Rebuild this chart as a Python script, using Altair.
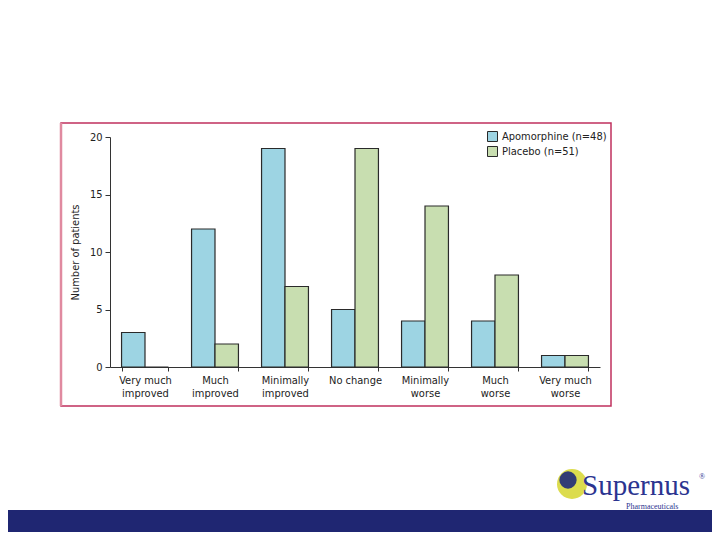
import altair as alt
import pandas as pd

categories = ["Very much\nimproved", "Much\nimproved", "Minimally\nimproved", "No change",
              "Minimally\nworse", "Much\nworse", "Very much\nworse"]
groups = ["Apomorphine (n=48)", "Placebo (n=51)"]
apomorphine = [3, 12, 19, 5, 4, 4, 1]
placebo = [0, 2, 7, 19, 14, 8, 1]
y_ticks = [0, 5, 10, 15, 20]
colors = ["#9DD4E3", "#C8DEB0"]

rows = []
for c, a, p in zip(categories, apomorphine, placebo):
    rows.append({"category": c, "group": groups[0], "value": a})
    rows.append({"category": c, "group": groups[1], "value": p})
df = pd.DataFrame(rows)

FONT = "Liberation Sans Narrow, DejaVu Sans Condensed, Noto Sans, sans-serif"
one = pd.DataFrame({"d": [0]})

border = alt.Chart(one).mark_rect(fill=None, stroke="#C0305E", strokeWidth=1.5).encode(
    x=alt.value(-49), x2=alt.value(501), y=alt.value(-14), y2=alt.value(269))
border_left = alt.Chart(one).mark_rule(stroke="#E08AA0", strokeWidth=2.5).encode(
    x=alt.value(-49), y=alt.value(-14), y2=alt.value(269))

bars = alt.Chart(df).mark_bar(stroke="#2a2a2a", strokeWidth=1.2).encode(
    x=alt.X("category:N", sort=categories,
            scale=alt.Scale(paddingInner=0.33, paddingOuter=0.165),
            axis=alt.Axis(title=None, labelAngle=0, tickBand="extent", tickSize=4,
                          labelExpr="split(datum.label, '\\n')", labelLineHeight=13,
                          labelFontSize=11, labelFont=FONT, labelColor="#222",
                          labelPadding=3, domainColor="#333", tickColor="#333",
                          labelBaseline="top")),
    xOffset=alt.XOffset("group:N", sort=groups),
    y=alt.Y("value:Q", scale=alt.Scale(domain=[0, 20]),
            axis=alt.Axis(title="Number of patients", values=y_ticks, grid=False, tickSize=5,
                          labelFontSize=11, labelFont=FONT, labelColor="#222",
                          titleFont=FONT, titleFontSize=11, titleFontWeight="normal",
                          titleColor="#222", titlePadding=9, domainColor="#333",
                          tickColor="#333", labelPadding=3)),
    color=alt.Color("group:N", sort=groups, scale=alt.Scale(domain=groups, range=colors),
                    legend=alt.Legend(title=None, orient="none", legendX=377, legendY=-6,
                                      symbolType="square", symbolSize=100,
                                      symbolStrokeColor="#2a2a2a", symbolStrokeWidth=1,
                                      labelFont=FONT, labelFontSize=11, labelColor="#222",
                                      rowPadding=0, labelLimit=200)),
)

footer = alt.Chart(one).mark_rect(fill="#1F2672").encode(
    x=alt.value(-102), x2=alt.value(602), y=alt.value(373), y2=alt.value(395))

logo_outer = alt.Chart(one).mark_circle(color="#DCDC4E", opacity=1, size=900).encode(
    x=alt.value(462), y=alt.value(347))
logo_inner = alt.Chart(one).mark_circle(color="#1F2A7A", opacity=0.9, size=300).encode(
    x=alt.value(458), y=alt.value(343))
logo_text = alt.Chart(one).mark_text(text="Supernus", font="Liberation Serif", fontSize=29,
                                     color="#2B3490", align="left", baseline="alphabetic").encode(
    x=alt.value(472), y=alt.value(358))
logo_sub = alt.Chart(one).mark_text(text="Pharmaceuticals", font="Liberation Serif", fontSize=8,
                                    color="#2B3490", align="left", baseline="alphabetic").encode(
    x=alt.value(516), y=alt.value(372))
logo_reg = alt.Chart(one).mark_text(text="®", font="Liberation Serif", fontSize=8,
                                    color="#2B3490", align="left").encode(
    x=alt.value(589), y=alt.value(340))

chart = alt.layer(border, border_left, bars, footer, logo_outer, logo_inner,
                  logo_text, logo_sub, logo_reg).properties(
    width=490, height=230,
    autosize=alt.AutoSizeParams(type="none"),
    padding={"left": 102, "top": 129, "right": 112, "bottom": 165},
    background="white",
).configure_view(stroke=None)

chart.save("out.html", embed_options={"renderer": "svg", "actions": False})
